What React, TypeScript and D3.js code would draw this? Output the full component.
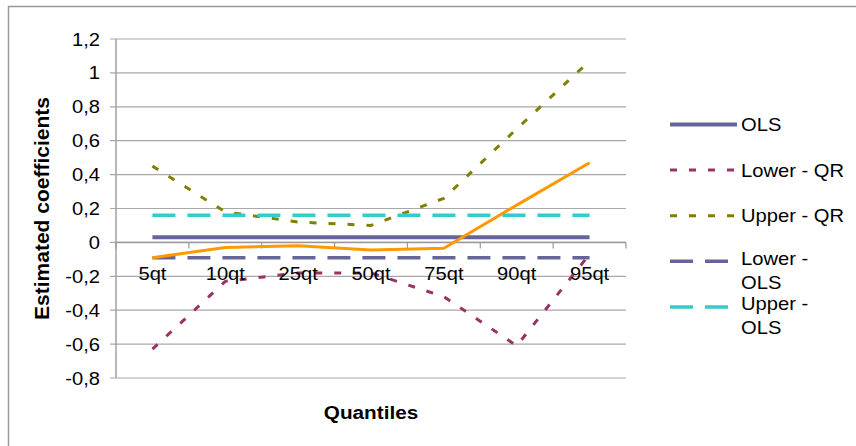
import { line, scaleBand, scaleLinear } from 'd3'

const WIDTH = 856
const HEIGHT = 446
const PLOT = { left: 116, right: 626, top: 39, bottom: 378 }
const STRETCH = 1.12
const FONT = '"Liberation Sans", Arial, sans-serif'

const categories = ['5qt', '10qt', '25qt', '50qt', '75qt', '90qt', '95qt']
const yTicks = [-0.8, -0.6, -0.4, -0.2, 0, 0.2, 0.4, 0.6, 0.8, 1, 1.2]

const ols = [0.03, 0.03, 0.03, 0.03, 0.03, 0.03, 0.03]
const lowerQR = [-0.63, -0.23, -0.18, -0.18, -0.32, -0.61, -0.07]
const upperQR = [0.45, 0.18, 0.12, 0.1, 0.26, 0.67, 1.07]
const lowerOLS = [-0.09, -0.09, -0.09, -0.09, -0.09, -0.09, -0.09]
const upperOLS = [0.16, 0.16, 0.16, 0.16, 0.16, 0.16, 0.16]
const qr = [-0.09, -0.03, -0.02, -0.045, -0.035, 0.22, 0.47]

type Series = {
  name: string[]
  values: number[]
  color: string
  width: number
  dash?: string
  legend: boolean
}

const series: Series[] = [
  { name: ['OLS'], values: ols, color: '#65659a', width: 4, legend: true },
  { name: ['Lower - QR'], values: lowerQR, color: '#993366', width: 3, dash: '7 12', legend: true },
  { name: ['Upper - QR'], values: upperQR, color: '#808000', width: 3, dash: '7 12', legend: true },
  { name: ['Lower -', 'OLS'], values: lowerOLS, color: '#65659a', width: 3.5, dash: '23 12', legend: true },
  { name: ['Upper -', 'OLS'], values: upperOLS, color: '#33cccc', width: 3.5, dash: '23 12', legend: true },
  { name: ['QR'], values: qr, color: '#ff9900', width: 3, legend: false },
]

function StretchText({
  x,
  y,
  anchor = 'start',
  weight = 'normal',
  size = 18,
  children,
}: {
  x: number
  y: number
  anchor?: 'start' | 'middle' | 'end'
  weight?: string
  size?: number
  children: string
}) {
  return (
    <g transform={`translate(${x},${y}) scale(${STRETCH},1)`}>
      <text textAnchor={anchor} fontSize={size} fontWeight={weight} fontFamily={FONT} fill="#000">
        {children}
      </text>
    </g>
  )
}

export default function App() {
  const x = scaleBand<string>().domain(categories).range([PLOT.left, PLOT.right]).padding(0)
  const y = scaleLinear().domain([-0.8, 1.2]).range([PLOT.bottom, PLOT.top])
  const cx = (c: string) => (x(c) ?? 0) + x.bandwidth() / 2

  const path = line<number>()
    .x((_, i) => cx(categories[i]))
    .y((v) => y(v))

  const legendX = 670
  const legendItems = series.filter((s) => s.legend)

  return (
    <svg width={WIDTH} height={HEIGHT} style={{ position: 'absolute', left: 0, top: 0, background: '#fff' }}>
      <defs>
        <clipPath id="legend-clip">
          <rect x={640} y={90} width={216} height={252} />
        </clipPath>
      </defs>
      <rect x={8.5} y={6.5} width={1000} height={1000} fill="#fff" stroke="#9a9a9a" strokeWidth={1.5} />

      {yTicks.map((t) => (
        <g key={t}>
          <line x1={PLOT.left - 6} x2={PLOT.right} y1={y(t)} y2={y(t)} stroke="#a8a8a8" strokeWidth={1.2} />
          <StretchText x={100} y={y(t) + 6.5} anchor="end">
            {String(t).replace('.', ',')}
          </StretchText>
        </g>
      ))}
      <line x1={PLOT.left} x2={PLOT.left} y1={PLOT.top} y2={PLOT.bottom} stroke="#a0a0a0" strokeWidth={1.5} />

      <line x1={PLOT.left} x2={PLOT.right} y1={y(0)} y2={y(0)} stroke="#9a9a9a" strokeWidth={1.5} />
      {[...categories.map((c) => x(c) ?? 0), PLOT.right].map((tx, i) => (
        <line key={i} x1={tx} x2={tx} y1={y(0)} y2={y(0) + 6} stroke="#9a9a9a" strokeWidth={1.2} />
      ))}

      {series.map((s) => (
        <path
          key={s.name.join(' ')}
          d={path(s.values) ?? ''}
          fill="none"
          stroke={s.color}
          strokeWidth={s.width}
          strokeDasharray={s.dash}
          strokeLinejoin="round"
        />
      ))}

      {categories.map((c) => (
        <StretchText key={c} x={cx(c)} y={279.5} anchor="middle">
          {c}
        </StretchText>
      ))}

      <StretchText x={(PLOT.left + PLOT.right) / 2} y={419} anchor="middle" weight="bold" size={18.5}>
        Quantiles
      </StretchText>
      <text
        transform={`translate(49,${(PLOT.top + PLOT.bottom) / 2}) rotate(-90)`}
        textAnchor="middle"
        fontSize={21}
        fontWeight="bold"
        fontFamily={FONT}
      >
        Estimated coefficients
      </text>

      <g clipPath="url(#legend-clip)">
        {legendItems.map((s, i) => {
          const ly = 124.5 + i * 45.6
          const two = s.name.length > 1
          return (
            <g key={s.name.join(' ')}>
              <line
                x1={legendX}
                x2={legendX + 67}
                y1={ly}
                y2={ly}
                stroke={s.color}
                strokeWidth={s.width}
                strokeDasharray={s.dash}
              />
              {s.name.map((n, j) => (
                <StretchText key={n} x={741} y={(two ? ly - 3 : ly) + 6.5 + j * 24}>
                  {n}
                </StretchText>
              ))}
            </g>
          )
        })}
      </g>
    </svg>
  )
}
